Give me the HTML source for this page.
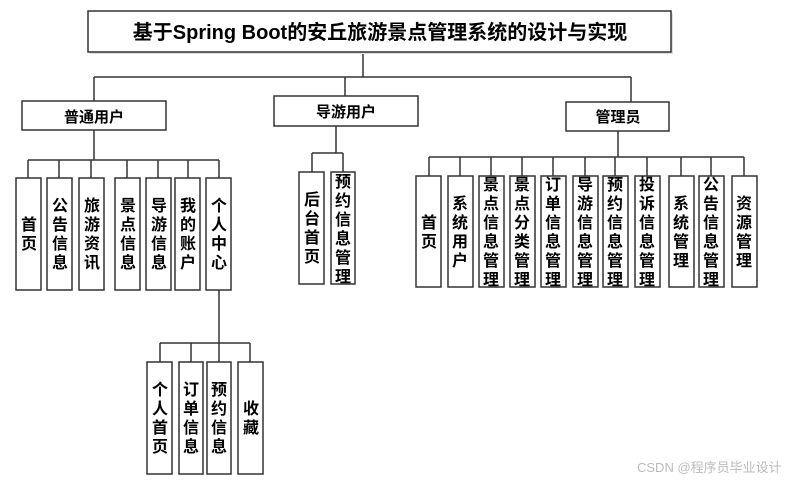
<!DOCTYPE html>
<html><head><meta charset="utf-8"><style>
html,body{margin:0;padding:0;background:#fff;}
svg{display:block;}
text{font-family:"Liberation Sans","Noto Sans CJK SC",sans-serif;font-weight:bold;fill:#000;}
</style></head><body>
<svg width="812" height="483" viewBox="0 0 812 483" xmlns="http://www.w3.org/2000/svg">
<g stroke="#333" stroke-width="1.5" fill="none">
<!-- title connectors -->
<path d="M363 52V77M94 77H631M94 77V101M345 77V96M631 77V102"/>
<!-- 普通 -->
<path d="M94 130V160M28 160H219M28 160V178M59 160V178M91 160V178M127 160V178M158 160V178M188 160V178M219 160V178"/>
<path d="M219 290V343M160 343H250M160 343V362M191 343V362M219 343V362M250 343V362"/>
<!-- 导游 -->
<path d="M336 126V153M312 153H343M312 153V172M343 153V172"/>
<!-- 管理员 -->
<path d="M618 131V157M429 157H744M429 157V176M460 157V176M491 157V176M522 157V176M553 157V176M585 157V176M615 157V176M647 157V176M681 157V176M711 157V176M744 157V176"/>
</g>
<g fill="#fff" stroke="#333" stroke-width="1.5">
<rect x="90" y="13" width="583" height="41" fill="#ddd" stroke="none"/>
<rect x="88" y="11" width="583" height="41"/>
<rect x="22" y="101" width="144" height="29"/>
<rect x="274" y="96" width="144" height="30"/>
<rect x="566" y="102" width="103" height="29"/>
</g>
<text x="380" y="39" font-size="20" text-anchor="middle">基于Spring Boot的安丘旅游景点管理系统的设计与实现</text>
<text x="94" y="122" font-size="15" text-anchor="middle">普通用户</text>
<text x="346" y="117" font-size="15" text-anchor="middle">导游用户</text>
<text x="618" y="122" font-size="15" text-anchor="middle">管理员</text>
<g fill="#fff" stroke="#333" stroke-width="1.5">
<rect x="16" y="178" width="25" height="112"/><rect x="47" y="178" width="25" height="112"/><rect x="79" y="178" width="25" height="112"/><rect x="115" y="178" width="25" height="112"/><rect x="146" y="178" width="25" height="112"/><rect x="175" y="178" width="25" height="112"/><rect x="206" y="178" width="25" height="112"/>
<rect x="147" y="362" width="25" height="112"/><rect x="179" y="362" width="24" height="112"/><rect x="207" y="362" width="24" height="112"/><rect x="238" y="362" width="25" height="112"/>
<rect x="299" y="172" width="25" height="112"/><rect x="331" y="172" width="24" height="112"/>
<rect x="416" y="176" width="25" height="111"/><rect x="448" y="176" width="25" height="111"/><rect x="479" y="176" width="25" height="111"/><rect x="510" y="176" width="25" height="111"/><rect x="541" y="176" width="25" height="111"/><rect x="573" y="176" width="25" height="111"/><rect x="603" y="176" width="25" height="111"/><rect x="635" y="176" width="25" height="111"/><rect x="669" y="176" width="25" height="111"/><rect x="699" y="176" width="25" height="111"/><rect x="732" y="176" width="25" height="111"/>
</g>
<g font-size="16" text-anchor="middle">
<text x="29" y="230"><tspan x="29">首</tspan><tspan x="29" dy="19">页</tspan></text>
<text x="60" y="211"><tspan x="60">公</tspan><tspan x="60" dy="19">告</tspan><tspan x="60" dy="19">信</tspan><tspan x="60" dy="19">息</tspan></text>
<text x="92" y="211"><tspan x="92">旅</tspan><tspan x="92" dy="19">游</tspan><tspan x="92" dy="19">资</tspan><tspan x="92" dy="19">讯</tspan></text>
<text x="128" y="211"><tspan x="128">景</tspan><tspan x="128" dy="19">点</tspan><tspan x="128" dy="19">信</tspan><tspan x="128" dy="19">息</tspan></text>
<text x="159" y="211"><tspan x="159">导</tspan><tspan x="159" dy="19">游</tspan><tspan x="159" dy="19">信</tspan><tspan x="159" dy="19">息</tspan></text>
<text x="188" y="211"><tspan x="188">我</tspan><tspan x="188" dy="19">的</tspan><tspan x="188" dy="19">账</tspan><tspan x="188" dy="19">户</tspan></text>
<text x="219" y="211"><tspan x="219">个</tspan><tspan x="219" dy="19">人</tspan><tspan x="219" dy="19">中</tspan><tspan x="219" dy="19">心</tspan></text>
<text x="160" y="395"><tspan x="160">个</tspan><tspan x="160" dy="19">人</tspan><tspan x="160" dy="19">首</tspan><tspan x="160" dy="19">页</tspan></text>
<text x="191" y="395"><tspan x="191">订</tspan><tspan x="191" dy="19">单</tspan><tspan x="191" dy="19">信</tspan><tspan x="191" dy="19">息</tspan></text>
<text x="219" y="395"><tspan x="219">预</tspan><tspan x="219" dy="19">约</tspan><tspan x="219" dy="19">信</tspan><tspan x="219" dy="19">息</tspan></text>
<text x="251" y="414"><tspan x="251">收</tspan><tspan x="251" dy="19">藏</tspan></text>
<text x="312" y="205"><tspan x="312">后</tspan><tspan x="312" dy="19">台</tspan><tspan x="312" dy="19">首</tspan><tspan x="312" dy="19">页</tspan></text>
<text x="343" y="187"><tspan x="343">预</tspan><tspan x="343" dy="19">约</tspan><tspan x="343" dy="19">信</tspan><tspan x="343" dy="19">息</tspan><tspan x="343" dy="19">管</tspan><tspan x="343" dy="19">理</tspan></text>
<text x="429" y="228"><tspan x="429">首</tspan><tspan x="429" dy="19">页</tspan></text>
<text x="460" y="209"><tspan x="460">系</tspan><tspan x="460" dy="19">统</tspan><tspan x="460" dy="19">用</tspan><tspan x="460" dy="19">户</tspan></text>
<text x="491" y="190"><tspan x="491">景</tspan><tspan x="491" dy="19">点</tspan><tspan x="491" dy="19">信</tspan><tspan x="491" dy="19">息</tspan><tspan x="491" dy="19">管</tspan><tspan x="491" dy="19">理</tspan></text>
<text x="522" y="190"><tspan x="522">景</tspan><tspan x="522" dy="19">点</tspan><tspan x="522" dy="19">分</tspan><tspan x="522" dy="19">类</tspan><tspan x="522" dy="19">管</tspan><tspan x="522" dy="19">理</tspan></text>
<text x="553" y="190"><tspan x="553">订</tspan><tspan x="553" dy="19">单</tspan><tspan x="553" dy="19">信</tspan><tspan x="553" dy="19">息</tspan><tspan x="553" dy="19">管</tspan><tspan x="553" dy="19">理</tspan></text>
<text x="585" y="190"><tspan x="585">导</tspan><tspan x="585" dy="19">游</tspan><tspan x="585" dy="19">信</tspan><tspan x="585" dy="19">息</tspan><tspan x="585" dy="19">管</tspan><tspan x="585" dy="19">理</tspan></text>
<text x="615" y="190"><tspan x="615">预</tspan><tspan x="615" dy="19">约</tspan><tspan x="615" dy="19">信</tspan><tspan x="615" dy="19">息</tspan><tspan x="615" dy="19">管</tspan><tspan x="615" dy="19">理</tspan></text>
<text x="647" y="190"><tspan x="647">投</tspan><tspan x="647" dy="19">诉</tspan><tspan x="647" dy="19">信</tspan><tspan x="647" dy="19">息</tspan><tspan x="647" dy="19">管</tspan><tspan x="647" dy="19">理</tspan></text>
<text x="681" y="209"><tspan x="681">系</tspan><tspan x="681" dy="19">统</tspan><tspan x="681" dy="19">管</tspan><tspan x="681" dy="19">理</tspan></text>
<text x="711" y="190"><tspan x="711">公</tspan><tspan x="711" dy="19">告</tspan><tspan x="711" dy="19">信</tspan><tspan x="711" dy="19">息</tspan><tspan x="711" dy="19">管</tspan><tspan x="711" dy="19">理</tspan></text>
<text x="744" y="209"><tspan x="744">资</tspan><tspan x="744" dy="19">源</tspan><tspan x="744" dy="19">管</tspan><tspan x="744" dy="19">理</tspan></text>
</g>
<text x="637" y="472" font-size="13" style="font-weight:normal;fill:#bbb">CSDN @程序员毕业设计</text>
</svg>
</body></html>
